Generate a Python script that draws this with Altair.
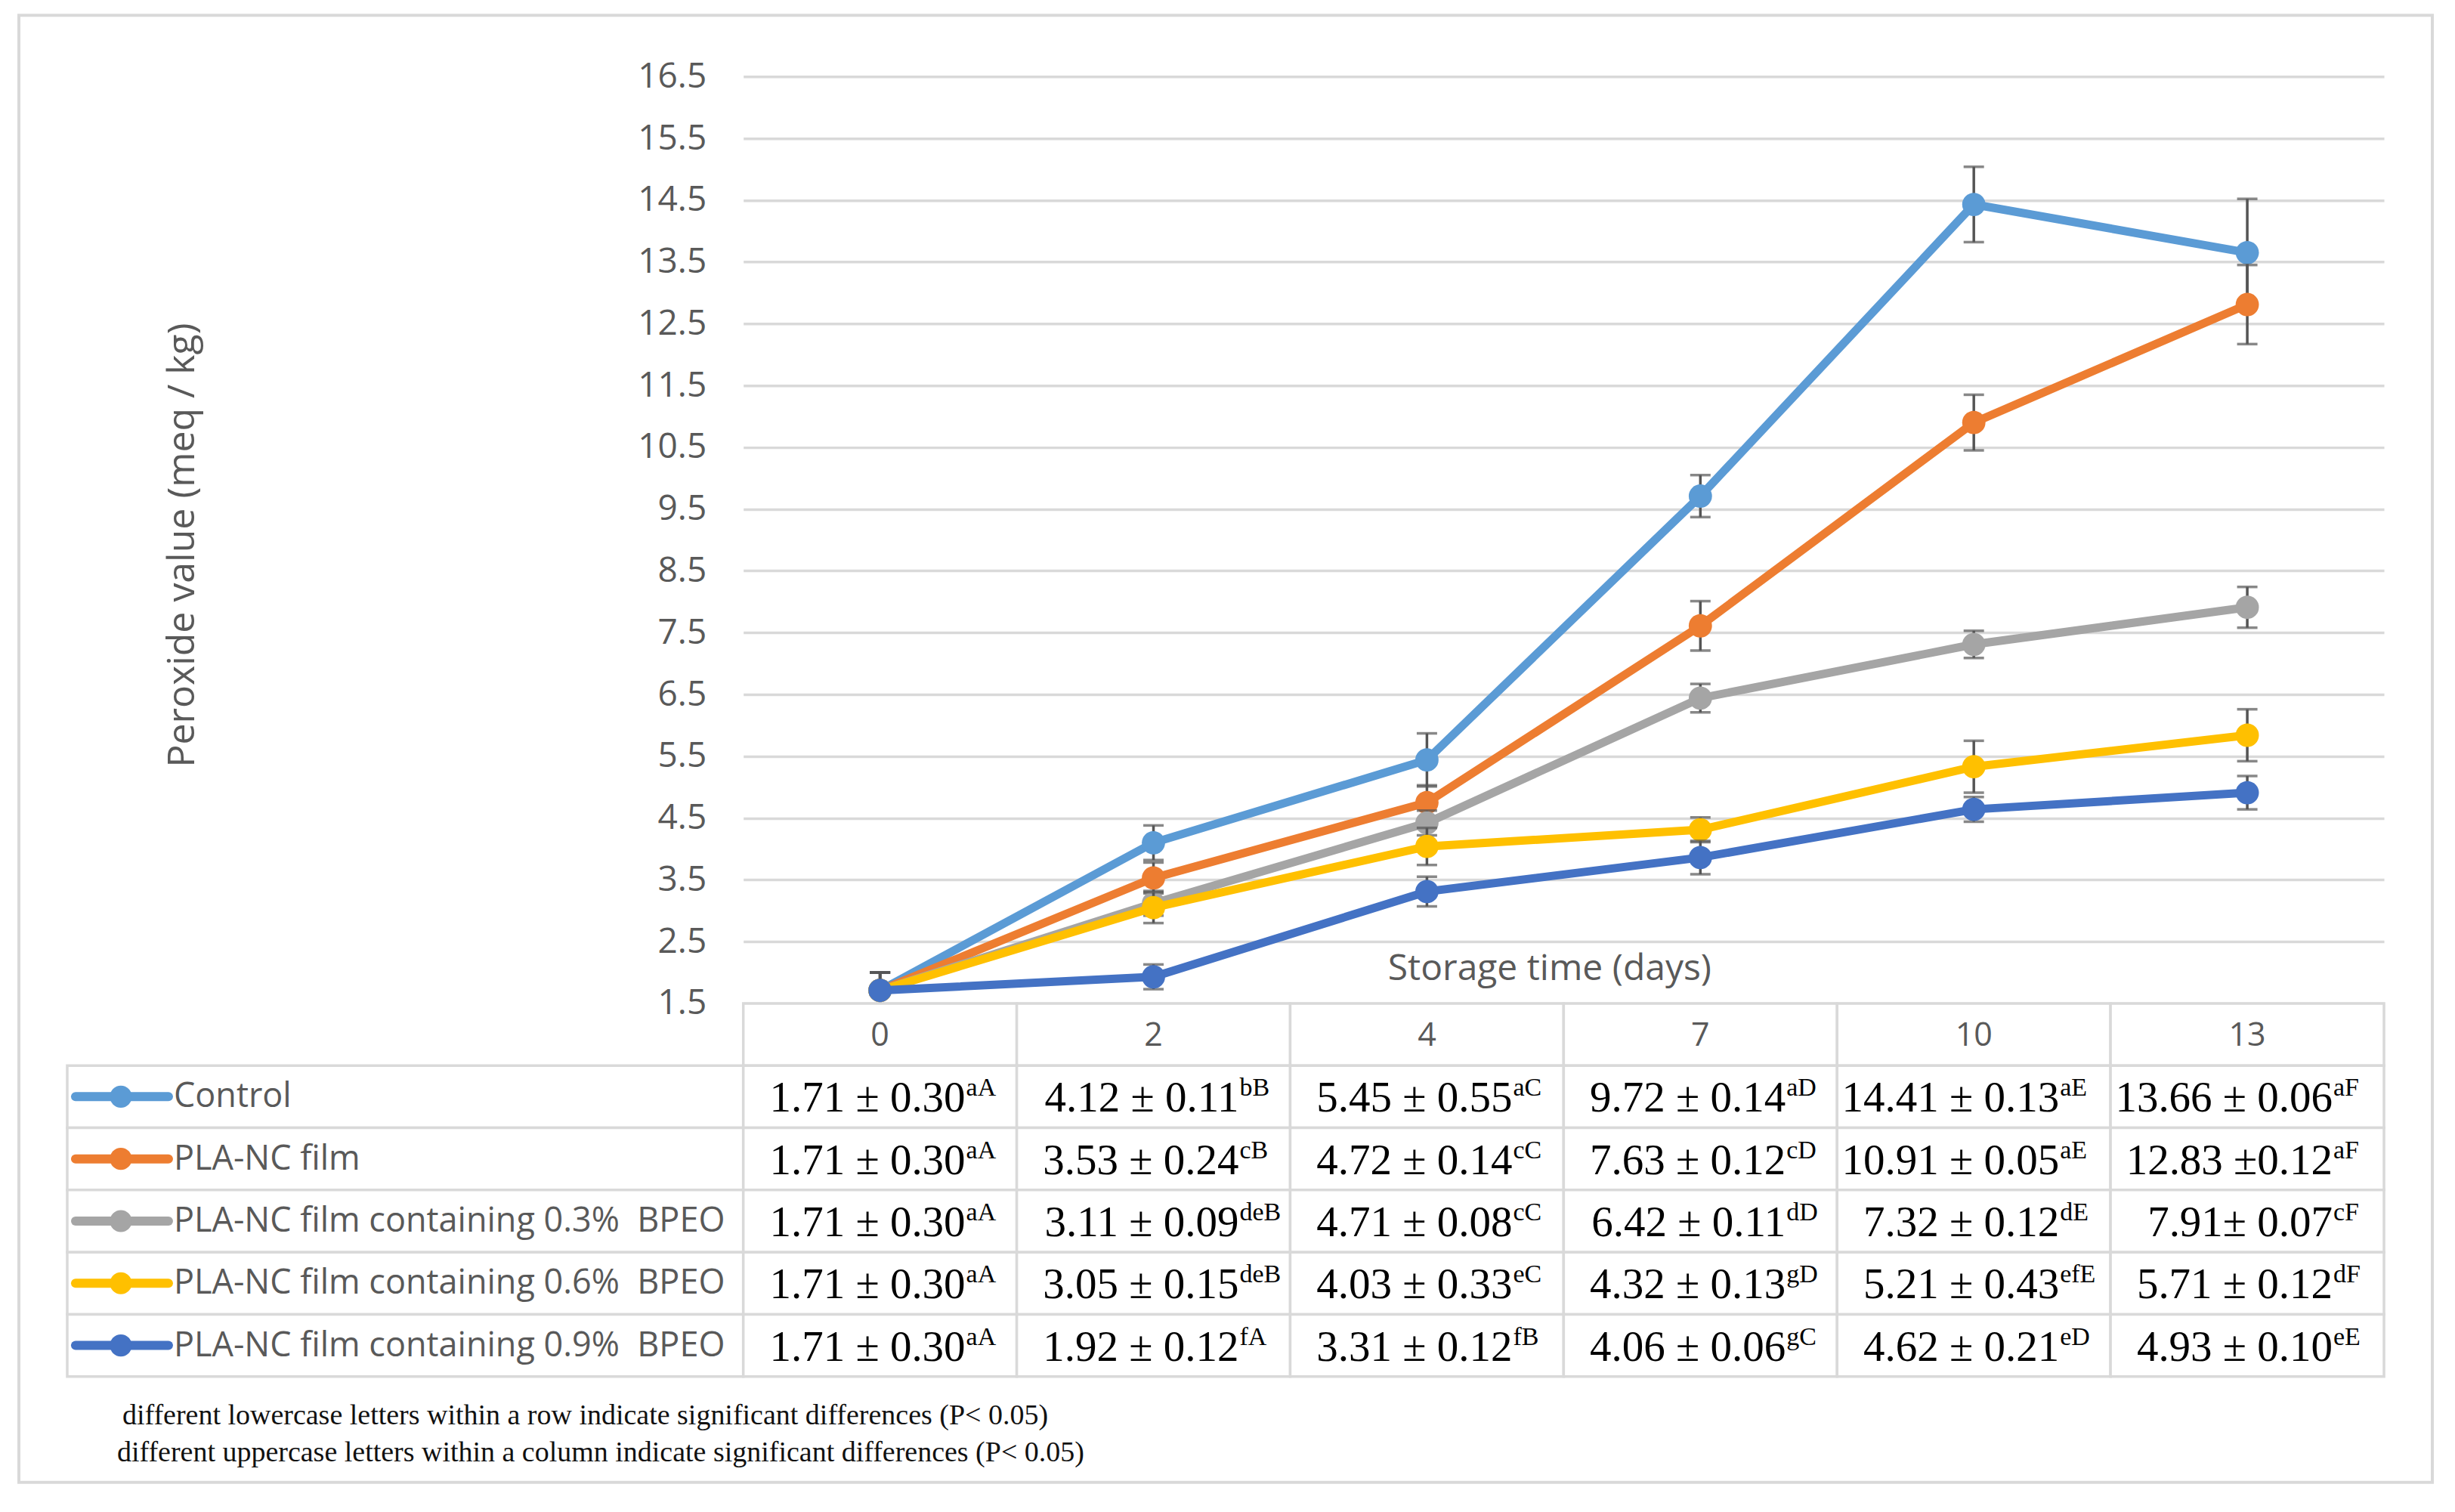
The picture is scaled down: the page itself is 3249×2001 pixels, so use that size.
import altair as alt
import pandas as pd

# ---------------- data ----------------
DAYS = ["0", "2", "4", "7", "10", "13"]
SERIES = [
    "Control",
    "PLA-NC film",
    "PLA-NC film containing 0.3%\u00a0 BPEO",
    "PLA-NC film containing 0.6%\u00a0 BPEO",
    "PLA-NC film containing 0.9%\u00a0 BPEO",
]
COLORS = ["#5B9BD5", "#ED7D31", "#A5A5A5", "#FFC000", "#4472C4"]

# values
VAL_CONTROL = [1.71, 4.10, 5.44, 9.71, 14.43, 13.65]
VAL_PLANC = [1.71, 3.53, 4.75, 7.61, 10.90, 12.81]
VAL_03 = [1.71, 3.12, 4.42, 6.44, 7.31, 7.91]
VAL_06 = [1.71, 3.05, 4.04, 4.31, 5.33, 5.84]
VAL_09 = [1.71, 1.93, 3.31, 3.86, 4.64, 4.91]

# error bar half-lengths
ERR_CONTROL = [0.29, 0.28, 0.43, 0.34, 0.61, 0.87]
ERR_PLANC = [0.29, 0.25, 0.28, 0.40, 0.45, 0.64]
ERR_03 = [0.29, 0.20, 0.20, 0.23, 0.22, 0.33]
ERR_06 = [0.29, 0.25, 0.30, 0.20, 0.42, 0.42]
ERR_09 = [0.29, 0.20, 0.24, 0.27, 0.20, 0.27]

VALUES = [VAL_CONTROL, VAL_PLANC, VAL_03, VAL_06, VAL_09]
ERRORS = [ERR_CONTROL, ERR_PLANC, ERR_03, ERR_06, ERR_09]

# data table texts
MAIN_CONTROL = ["1.71 ± 0.30", "4.12 ± 0.11", "5.45 ± 0.55", "9.72 ± 0.14", "14.41 ± 0.13", "13.66 ± 0.06"]
SUP_CONTROL = ["aA", "bB", "aC", "aD", "aE", "aF"]
MAIN_PLANC = ["1.71 ± 0.30", "3.53 ± 0.24", "4.72 ± 0.14", "7.63 ± 0.12", "10.91 ± 0.05", "12.83 ±0.12"]
SUP_PLANC = ["aA", "cB", "cC", "cD", "aE", "aF"]
MAIN_03 = ["1.71 ± 0.30", "3.11 ± 0.09", "4.71 ± 0.08", "6.42 ± 0.11", "7.32 ± 0.12", "7.91± 0.07"]
SUP_03 = ["aA", "deB", "cC", "dD", "dE", "cF"]
MAIN_06 = ["1.71 ± 0.30", "3.05 ± 0.15", "4.03 ± 0.33", "4.32 ± 0.13", "5.21 ± 0.43", "5.71 ± 0.12"]
SUP_06 = ["aA", "deB", "eC", "gD", "efE", "dF"]
MAIN_09 = ["1.71 ± 0.30", "1.92 ± 0.12", "3.31 ± 0.12", "4.06 ± 0.06", "4.62 ± 0.21", "4.93 ± 0.10"]
SUP_09 = ["aA", "fA", "fB", "gC", "eD", "eE"]
TABLE_MAIN = [MAIN_CONTROL, MAIN_PLANC, MAIN_03, MAIN_06, MAIN_09]
TABLE_SUP = [SUP_CONTROL, SUP_PLANC, SUP_03, SUP_06, SUP_09]

TICKS = [1.5, 2.5, 3.5, 4.5, 5.5, 6.5, 7.5, 8.5, 9.5, 10.5, 11.5, 12.5, 13.5, 14.5, 15.5, 16.5]
Y_TITLE = "Peroxide value (meq / kg)"
X_TITLE = "Storage time (days)"
FOOTNOTES = [
    "different lowercase letters within a row indicate significant differences (P< 0.05)",
    "different uppercase letters within a column indicate significant differences (P< 0.05)",
]

# ---------------- tables for the library ----------------
rows = []
for s, vals, errs in zip(SERIES, VALUES, ERRORS):
    for d, v, e in zip(DAYS, vals, errs):
        rows.append({"series": s, "day": d, "val": v, "lo": v - e, "hi": v + e})
df = pd.DataFrame(rows)

cells = []
for s, mains, sups in zip(SERIES, TABLE_MAIN, TABLE_SUP):
    for d, m, sp in zip(DAYS, mains, sups):
        cells.append({"row": s, "day": d, "main": m, "sup": sp})
cell_df = pd.DataFrame(cells)
hdr_df = pd.DataFrame({"row": ["hdr"] * len(DAYS), "day": DAYS, "label": DAYS})
grid_df = pd.concat([hdr_df[["row", "day"]], cell_df[["row", "day"]]], ignore_index=True)
leg_df = pd.DataFrame({"row": SERIES})
foot_df = pd.DataFrame({"text": FOOTNOTES})

GRAY_TXT = "#595959"
GRID = "#d9d9d9"
W_LEFT, W_PLOT = 895, 2172
H_PLOT, H_TABLE = 1227, 494
ROWS = ["hdr"] + SERIES

# ---------------- plot ----------------
x_axis = alt.Axis(labels=False, ticks=False, domain=False, grid=False,
                  title=X_TITLE, titleFont="Open Sans", titleFontSize=48,
                  titleFontWeight="normal", titleColor=GRAY_TXT,
                  titleY=-45, titleX=1067, titleBaseline="middle")
y_axis = alt.Axis(values=TICKS, format=".1f", labelFont="Open Sans", labelFontSize=46,
                  labelColor=GRAY_TXT, labelPadding=49, ticks=False, domain=False,
                  grid=True, gridColor=GRID, gridWidth=3.5,
                  title=Y_TITLE, titleFont="Open Sans", titleFontSize=50,
                  titleFontWeight="normal", titleColor=GRAY_TXT,
                  titleX=-742, titleY=620, titleAngle=270,
                  titleAlign="center", titleBaseline="middle")
X = alt.X("day:O", sort=DAYS, scale=alt.Scale(type="point", padding=0.5, domain=DAYS), axis=x_axis)
yscale = alt.Scale(domain=[1.5, 16.5], nice=False, zero=False)

layers = []
for s, c in zip(SERIES, COLORS):
    base = alt.Chart(df).transform_filter(alt.datum.series == s)
    layers.append(base.mark_rule(color="#555555", strokeWidth=3.5, clip=True).encode(
        x=X, y=alt.Y("lo:Q", scale=yscale, axis=y_axis), y2="hi:Q"))
    for f in ["lo", "hi"]:
        layers.append(base.mark_tick(color="#555555", thickness=3.5, size=27, clip=True).encode(
            x=X, y=alt.Y(f + ":Q", scale=yscale, axis=y_axis)))
    layers.append(base.mark_line(color=c, strokeWidth=11).encode(
        x=X, y=alt.Y("val:Q", scale=yscale, axis=y_axis)))
    layers.append(base.mark_circle(color=c, size=950, opacity=1).encode(
        x=X, y=alt.Y("val:Q", scale=yscale, axis=y_axis)))
plot = alt.layer(*layers).properties(width=W_PLOT, height=H_PLOT)

# ---------------- blank cell with the outer frame ----------------
blank = alt.Chart(pd.DataFrame({"k": [0]})).mark_rect(
    fill="white", fillOpacity=0, stroke=GRID, strokeWidth=4
).encode(x=alt.value(-64), y=alt.value(-81), x2=alt.value(3131), y2=alt.value(1861)
).properties(width=W_LEFT, height=H_PLOT)

# ---------------- data table ----------------
YT = alt.Y("row:N", scale=alt.Scale(type="band", domain=ROWS, paddingInner=0, paddingOuter=0), axis=None)
XT = alt.X("day:N", scale=alt.Scale(type="band", domain=DAYS, paddingInner=0, paddingOuter=0), axis=None)

t_grid = alt.Chart(grid_df).mark_rect(fill="white", stroke=GRID, strokeWidth=3.5).encode(x=XT, y=YT)
t_hdr = alt.Chart(hdr_df).mark_text(font="Open Sans", fontSize=43, color=GRAY_TXT,
                                    baseline="middle", dy=2).encode(x=XT, y=YT, text="label:N")
t_main = alt.Chart(cell_df).mark_text(font="Liberation Serif", fontSize=57, color="black",
                                      align="right", baseline="alphabetic", dx=113, dy=20
                                      ).encode(x=XT, y=YT, text="main:N")
t_sup = alt.Chart(cell_df).mark_text(font="Liberation Serif", fontSize=34, color="black",
                                     align="left", baseline="alphabetic", dx=114, dy=-1
                                     ).encode(x=XT, y=YT, text="sup:N")
table = alt.layer(t_grid, t_hdr, t_main, t_sup).properties(width=W_PLOT, height=H_TABLE)

# ---------------- legend column ----------------
colr = alt.Color("row:N", scale=alt.Scale(domain=SERIES, range=COLORS), legend=None)
l_rect = alt.Chart(leg_df).mark_rect(fill="white", stroke=GRID, strokeWidth=3.5).encode(
    y=YT, x=alt.value(0), x2=alt.value(W_LEFT))
l_line = alt.Chart(leg_df).mark_rule(strokeWidth=12, strokeCap="round").encode(
    y=YT, x=alt.value(11), x2=alt.value(134), color=colr)
l_pt = alt.Chart(leg_df).mark_circle(size=850, opacity=1).encode(
    y=YT, x=alt.value(71), color=colr)
l_txt = alt.Chart(leg_df).mark_text(font="Open Sans", fontSize=45, color=GRAY_TXT,
                                    align="left", baseline="middle").encode(
    y=YT, x=alt.value(141), text="row:N")
f1 = alt.Chart(foot_df.iloc[[0]]).mark_text(font="Liberation Serif", fontSize=38, color="#111111",
                                            align="left", baseline="alphabetic").encode(
    x=alt.value(73), y=alt.value(557), text="text:N")
f2 = alt.Chart(foot_df.iloc[[1]]).mark_text(font="Liberation Serif", fontSize=38, color="#111111",
                                            align="left", baseline="alphabetic").encode(
    x=alt.value(66), y=alt.value(606), text="text:N")
legcol = alt.layer(l_rect, l_line, l_pt, l_txt, f1, f2).properties(width=W_LEFT, height=H_TABLE)

chart = alt.concat(blank, plot, legcol, table, columns=2, spacing=0, bounds="flush").properties(
    padding={"left": 15, "top": 10, "right": 20, "bottom": 20}, background="white"
).configure(font="Open Sans").configure_view(strokeWidth=0)

chart.save("out.html", embed_options={"renderer": "svg", "actions": False})
